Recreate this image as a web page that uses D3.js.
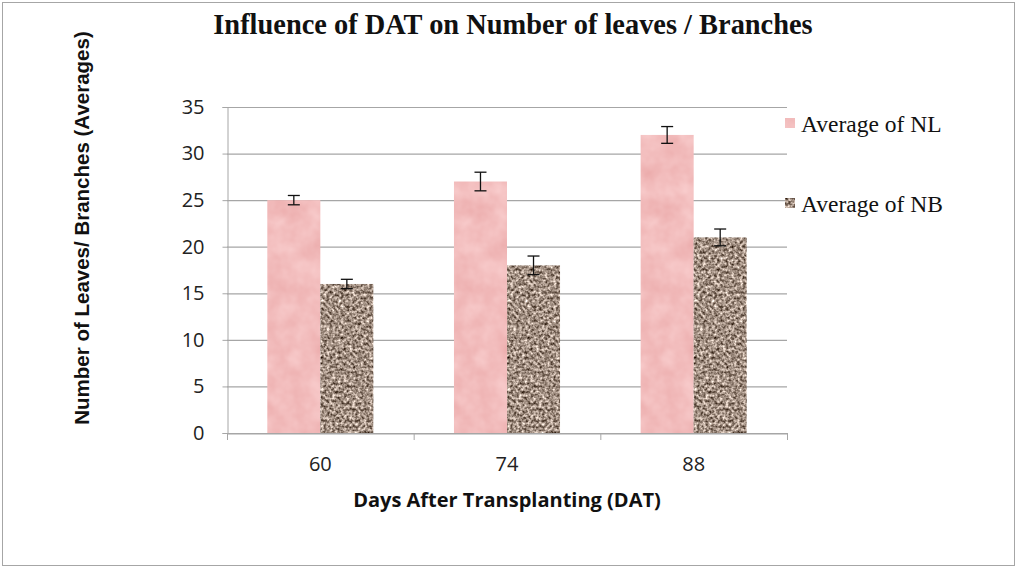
<!DOCTYPE html>
<html><head><meta charset="utf-8">
<script src="https://cdn.jsdelivr.net/npm/d3@7"></script>
<style>body{margin:0;background:#fff}svg{display:block}</style>
</head><body>
<script>
const categories = ["60","74","88"];
const seriesNames = ["Average of NL","Average of NB"];
const nlValues = [25, 27, 32];
const nbValues = [16, 18, 21];
const nlErrors = [0.5, 1.0, 0.9];
const nbErrors = [0.5, 1.0, 0.9];
const yTicks = [0,5,10,15,20,25,30,35];

const W=1018,H=568;
const svg=d3.select("body").append("svg").attr("width",W).attr("height",H);
const defs=svg.append("defs");
// pink mottled texture
const fp=defs.append("filter").attr("id","pinkTex").attr("x",0).attr("y",0).attr("width",1).attr("height",1)
  .attr("color-interpolation-filters","sRGB");
fp.append("feTurbulence").attr("type","fractalNoise").attr("baseFrequency",0.05).attr("numOctaves",3).attr("seed",3).attr("result","n");
fp.append("feColorMatrix").attr("in","n").attr("type","matrix")
  .attr("values","0.06 0 0 0 0.92  0.15 0 0 0 0.665  0.15 0 0 0 0.665  0 0 0 0 1").attr("result","c");
fp.append("feComposite").attr("in","c").attr("in2","SourceGraphic").attr("operator","in");
// brown granite texture
const fb=defs.append("filter").attr("id","brownTex").attr("x",0).attr("y",0).attr("width",1).attr("height",1)
  .attr("color-interpolation-filters","sRGB");
fb.append("feTurbulence").attr("type","fractalNoise").attr("baseFrequency",0.35).attr("numOctaves",2).attr("seed",7).attr("result","n");
fb.append("feColorMatrix").attr("in","n").attr("type","matrix")
  .attr("values","1.3 0 0 0 -0.02  1.3 0 0 0 -0.09  1.3 0 0 0 -0.14  0 0 0 0 1").attr("result","c");
fb.append("feComposite").attr("in","c").attr("in2","SourceGraphic").attr("operator","in");

// outer border
svg.append("rect").attr("x",2.5).attr("y",2.5).attr("width",W-6).attr("height",H-5)
  .attr("fill","none").attr("stroke","#a6a6a6").attr("stroke-width",1);

const L=227,R=787,T=107,B=433;
const x=d3.scaleBand().domain(categories).range([L,R]).padding(0);
const y=d3.scaleLinear().domain([0,35]).range([B,T]);
const inner=d3.scaleBand().domain(seriesNames).range([0,x.bandwidth()]).paddingInner(0).paddingOuter(0.76);

// gridlines
svg.append("g").selectAll("line").data(yTicks).join("line")
  .attr("x1",L).attr("x2",R).attr("y1",d=>y(d)+0.5).attr("y2",d=>y(d)+0.5)
  .attr("stroke","#a6a6a6").attr("stroke-width",1.2);

// y axis
const ya=svg.append("g").attr("transform",`translate(${L+0.5},0)`)
  .call(d3.axisLeft(y).tickValues(yTicks).tickSize(5).tickPadding(18));
ya.select(".domain").attr("stroke","#a6a6a6");
ya.selectAll(".tick line").attr("stroke","#a6a6a6");
ya.selectAll("text").attr("font-family","'Open Sans',sans-serif").attr("font-size",20).attr("fill","#222");

// bars
const data=categories.map((c,i)=>({c,vals:[{s:seriesNames[0],v:nlValues[i],e:nlErrors[i]},{s:seriesNames[1],v:nbValues[i],e:nbErrors[i]}]}));
const g=svg.append("g");
const grp=g.selectAll("g").data(data).join("g").attr("transform",d=>`translate(${x(d.c)},0)`);
grp.selectAll("rect").data(d=>d.vals).join("rect")
  .attr("x",d=>inner(d.s)).attr("width",inner.bandwidth())
  .attr("y",d=>y(d.v)).attr("height",d=>B-y(d.v))
  .attr("fill",d=>d.s===seriesNames[0]?"#f4b8b8":"#a08c7c")
  .attr("filter",d=>d.s===seriesNames[0]?"url(#pinkTex)":"url(#brownTex)");
// error bars
grp.selectAll("g.err").data(d=>d.vals).join("g").attr("class","err").each(function(d){
  const cx=inner(d.s)+inner.bandwidth()/2, e=d3.select(this);
  e.append("line").attr("x1",cx).attr("x2",cx).attr("y1",y(d.v+d.e)).attr("y2",y(d.v-d.e)).attr("stroke","#111").attr("stroke-width",1.3);
  [d.v+d.e,d.v-d.e].forEach(vv=>e.append("line").attr("x1",cx-6).attr("x2",cx+6).attr("y1",y(vv)).attr("y2",y(vv)).attr("stroke","#111").attr("stroke-width",1.3));
});

// x axis
const xa=svg.append("g").attr("transform",`translate(0,${B+0.5})`)
  .call(d3.axisBottom(x).tickSize(0).tickPadding(23));
xa.select(".domain").attr("stroke","#a6a6a6");
xa.selectAll("text").attr("font-family","'Open Sans',sans-serif").attr("font-size",20).attr("fill","#222");
const xTickPos=[L,...categories.map(c=>x(c)+x.bandwidth())];
svg.append("g").selectAll("line").data(xTickPos).join("line")
  .attr("x1",d=>d+0.5).attr("x2",d=>d+0.5).attr("y1",B).attr("y2",B+7).attr("stroke","#a6a6a6");

// title
svg.append("text").attr("x",513).attr("y",34).attr("text-anchor","middle")
  .attr("font-family","'Liberation Serif',serif").attr("font-weight","bold").attr("font-size",28.4).attr("fill","#111")
  .text("Influence of DAT on Number of leaves / Branches");
// axis titles
svg.append("text").attr("x",507).attr("y",507).attr("text-anchor","middle")
  .attr("font-family","'Open Sans',sans-serif").attr("font-weight","bold").attr("font-size",20).attr("fill","#111")
  .text("Days After Transplanting  (DAT)");
svg.append("text").attr("transform","translate(89,228) rotate(-90)").attr("text-anchor","middle")
  .attr("font-family","'Liberation Sans',sans-serif").attr("font-weight","bold").attr("font-size",20.5).attr("fill","#111")
  .text("Number of Leaves/ Branches (Averages)");

// legend
const leg=svg.append("g");
const legY=[123,203];
seriesNames.forEach((s,i)=>{
  leg.append("rect").attr("x",785).attr("y",legY[i]-5).attr("width",10).attr("height",10)
    .attr("fill",i===0?"#f4b8b8":"#a08c7c").attr("filter",i===0?"url(#pinkTex)":"url(#brownTex)");
  leg.append("text").attr("x",801).attr("y",legY[i]+9).attr("font-family","'Liberation Serif',serif")
    .attr("font-size",23.5).attr("fill","#111").text(s);
});
</script>
</body></html>
